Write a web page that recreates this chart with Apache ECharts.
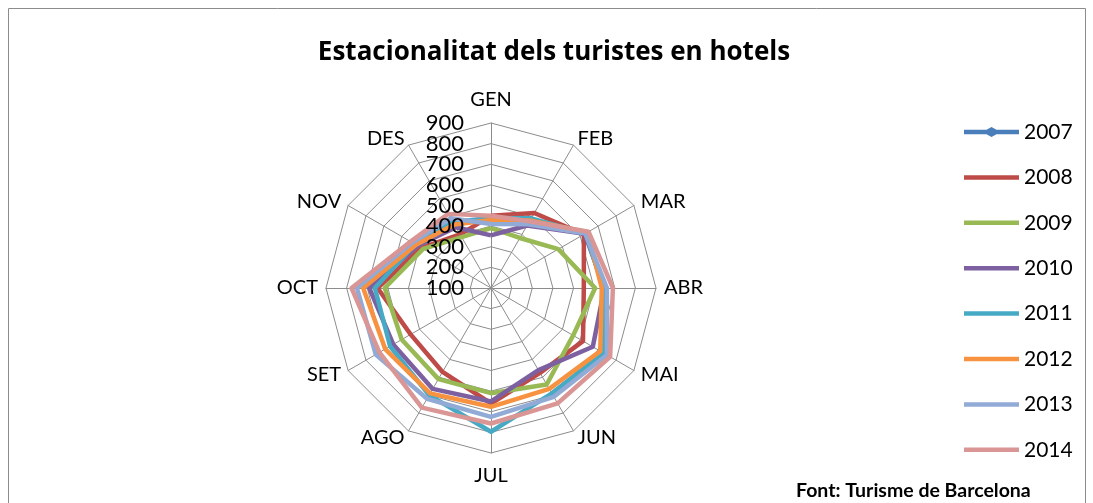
<!DOCTYPE html>
<html>
<head>
<meta charset="utf-8">
<title>Estacionalitat dels turistes en hotels</title>
<script src="https://cdn.jsdelivr.net/npm/echarts@6/dist/echarts.min.js"></script>
<style>
  html, body { margin: 0; padding: 0; background: #fff; }
  #chart { width: 1093px; height: 503px; }
</style>
</head>
<body>
<div id="chart"></div>
<script>
// months in the order Excel draws them, clockwise from the top
const months = ['GEN', 'FEB', 'MAR', 'ABR', 'MAI', 'JUN', 'JUL', 'AGO', 'SET', 'OCT', 'NOV', 'DES'];
const years = ['2007', '2008', '2009', '2010', '2011', '2012', '2013', '2014'];
const colors = ['#4A7EBB', '#BE4B48', '#98B954', '#7D60A0', '#46AAC5', '#F69240', '#92AAD6', '#D99694'];
const tickLabels = ['100', '200', '300', '400', '500', '600', '700', '800', '900'];

// values (2007 has no line drawn)
const v2007 = [];
const v2008 = [450, 520, 620, 550, 615, 575, 660, 570, 550, 650, 490, 400];
const v2009 = [390, 380, 477, 605, 560, 640, 610, 610, 600, 615, 480, 385];
const v2010 = [355, 450, 625, 650, 670, 560, 650, 665, 647, 690, 510, 440];
const v2011 = [440, 490, 630, 644, 730, 690, 797, 700, 665, 663, 525, 470];
const v2012 = [430, 478, 640, 637, 712, 665, 676, 690, 692, 720, 520, 455];
const v2013 = [410, 457, 628, 662, 749, 709, 725, 720, 745, 750, 540, 490];
const v2014 = [450, 474, 646, 691, 767, 746, 757, 770, 725, 776, 550, 515];
const values = [v2007, v2008, v2009, v2010, v2011, v2012, v2013, v2014];

const FONT = 'Lato';
const axisMin = Number(tickLabels[0]);
const axisMax = Number(tickLabels[tickLabels.length - 1]);
const CENTER = [491, 288];
const RADIUS = 165;

// echarts lays indicators out counter clockwise, so flip the order after GEN
const order = [0].concat(months.map((m, i) => i).slice(1).reverse());

// grid radar: spokes, rings and month names
const gridIndicators = order.map(function (i) {
  const ind = { name: months[i], min: axisMin, max: axisMax };
  if (months[i] === 'GEN' || months[i] === 'JUL') ind.nameGap = 13;
  return ind;
});

// label radars: same geometry, value labels on the GEN spoke only, drawn above the lines.
// echarts drops the end labels when they touch their neighbours, so the inner
// labels and the two end labels go on separate radars.
const innerTicks = tickLabels.slice(1, -1);
const endTicks = [tickLabels[0], tickLabels[tickLabels.length - 1]];

function labelIndicators(shown, forceEnds) {
  return order.map(function (i, k) {
    const ind = { name: months[i], min: axisMin, max: axisMax };
    if (k === 0) {
      ind.axisLabel = {
        show: true, margin: 27, color: '#000', fontSize: 22, lineHeight: 8,
        fontFamily: FONT,
        formatter: v => (shown.indexOf(String(v)) >= 0 ? String(v) : '')
      };
      if (forceEnds) {
        ind.axisLabel.showMinLabel = true;
        ind.axisLabel.showMaxLabel = true;
      }
    }
    return ind;
  });
}

function labelRadar(shown, forceEnds) {
  return {
    z: 10,
    center: CENTER,
    radius: RADIUS,
    startAngle: 90,
    shape: 'polygon',
    splitNumber: tickLabels.length - 1,
    indicator: labelIndicators(shown, forceEnds),
    axisName: { show: false },
    axisLine: { show: false },
    splitLine: { show: false },
    splitArea: { show: false },
    axisLabel: { show: false },
    axisTick: { show: false }
  };
}

// one radar series per year, so the empty 2007 series cannot disturb the others
const series = years.map(function (y, s) {
  const vals = values[s];
  return {
    type: 'radar',
    name: y,
    radarIndex: 0,
    symbol: 'none',
    itemStyle: { color: colors[s] },
    lineStyle: { color: colors[s], width: 4.5 },
    data: [{
      name: y,
      value: order.map(i => (i < vals.length ? vals[i] : null))
    }]
  };
});

// legend icons: plain line, and line with a diamond for 2007
const lineIcon = 'path://M0,0 L55,0 L55,4.5 L0,4.5 Z';
const diamondIcon = 'path://M0,2.8 L22.5,2.8 L27.5,0 L32.5,2.8 L55,2.8 L55,7.2 L32.5,7.2 L27.5,10 L22.5,7.2 L0,7.2 Z';

const chart = echarts.init(document.getElementById('chart'), null, { renderer: 'canvas' });

chart.setOption({
  animation: false,
  title: [{
    text: 'Estacionalitat dels turistes en hotels',
    left: 549,
    top: 35,
    textAlign: 'center',
    textStyle: { fontFamily: 'Open Sans', fontSize: 26, fontWeight: 'bold', color: '#000' }
  }, {
    text: 'Font: Turisme de Barcelona',
    left: 791,
    top: 476,
    textStyle: { fontFamily: FONT, fontSize: 19.5, fontWeight: 'bold', color: '#000' }
  }],
  legend: {
    data: years.map((y, s) => ({ name: y, icon: s === 0 ? diamondIcon : lineIcon })),
    orient: 'vertical',
    left: 959,
    top: 116,
    itemWidth: 55,
    itemHeight: 10,
    itemGap: 23.4,
    symbolKeepAspect: true,
    selectedMode: false,
    textStyle: { fontFamily: FONT, fontSize: 21, color: '#000', lineHeight: 22 }
  },
  radar: [{
    center: CENTER,
    radius: RADIUS,
    startAngle: 90,
    shape: 'polygon',
    splitNumber: tickLabels.length - 1,
    indicator: gridIndicators,
    nameGap: 8,
    axisName: { color: '#000', fontSize: 20, fontFamily: FONT },
    axisLine: { lineStyle: { color: '#8c8c8c', width: 1 } },
    splitLine: { lineStyle: { color: '#8c8c8c', width: 1 } },
    splitArea: { show: false },
    axisLabel: { show: false },
    axisTick: { show: false }
  }, labelRadar(innerTicks, false), labelRadar(endTicks, true)],
  graphic: [{
    type: 'rect',
    silent: true,
    shape: { x: 8.5, y: 8.5, width: 1077, height: 520 },
    style: { fill: 'none', stroke: '#8c8c8c', lineWidth: 1 }
  }],
  series: series
});
</script>
</body>
</html>
